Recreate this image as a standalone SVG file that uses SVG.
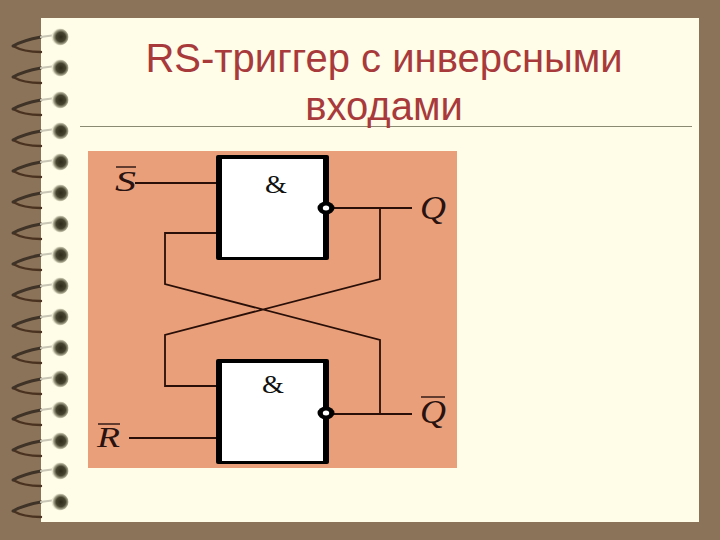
<svg xmlns="http://www.w3.org/2000/svg" width="720" height="540" viewBox="0 0 720 540">
<style>
.t{font-family:"Liberation Sans",Arial,sans-serif;font-size:40px;fill:#a83a3c;text-anchor:middle}
.m{font-family:"Liberation Serif","Times New Roman",serif;font-style:italic;font-size:30px;fill:#2a1210}
.q{font-size:34px}
.a{font-family:"Liberation Serif","Times New Roman",serif;font-size:26px;fill:#111}
.w{fill:none;stroke:#2a0f08;stroke-width:1.8}
.o{stroke:#2a1210;stroke-width:1.4}
.r1{fill:none;stroke:#3f3226;stroke-width:2.8;stroke-linecap:round}
.r2{fill:none;stroke:#c9c6b6;stroke-width:2.2;stroke-linecap:round}
.r3{fill:none;stroke:#4a3220;stroke-width:2.4;stroke-linecap:round}
</style>
<defs>
<radialGradient id="hole" cx="0.55" cy="0.5" r="0.5">
<stop offset="0" stop-color="#2e2b1b"/>
<stop offset="0.55" stop-color="#46432f"/>
<stop offset="0.85" stop-color="#a7a58c"/>
<stop offset="1" stop-color="#e8e6cf"/>
</radialGradient>
<g id="ring">
<path class="r3" d="M41 15C30 15 20 13 13 9"/>
<path class="r1" d="M13 9C20 5 30 2 41 0"/>
<path class="r2" d="M41 0C46-1 50-1 55-2"/>
<circle cx="60" cy="0" r="8.500" fill="url(#hole)"/>
</g>
</defs>
<rect width="720" height="540" fill="#8b735a"/>
<rect x="41" y="18" width="658" height="504" fill="#fffde8"/>
<path d="M80 126.500H692" stroke="#8a8a72" stroke-width="1"/>
<g id="rings">
<use href="#ring" y="37"/><use href="#ring" y="68"/><use href="#ring" y="100"/><use href="#ring" y="131"/>
<use href="#ring" y="162"/><use href="#ring" y="193"/><use href="#ring" y="224"/><use href="#ring" y="255"/>
<use href="#ring" y="286"/><use href="#ring" y="317"/><use href="#ring" y="348"/><use href="#ring" y="379"/>
<use href="#ring" y="410"/><use href="#ring" y="441"/><use href="#ring" y="471"/><use href="#ring" y="502"/>
</g>
<text class="t" x="384" y="72">RS-триггер с инверсными</text>
<text class="t" x="384" y="120">входами</text>
<rect x="88" y="151" width="369" height="317" fill="#e9a07a"/>
<g id="connectors">
<path class="w" d="M135 183H218M218 233H165V284L380 340V414M329 208H412M380 208V279L165 335V386H218M129 438H218M329 414H412"/>
</g>
<g id="gate-top">
<rect x="216" y="155" width="113" height="105" rx="2" fill="#000"/>
<rect x="222" y="159" width="101" height="98" fill="#fff"/>
<text class="a" x="265" y="193" textLength="22" lengthAdjust="spacingAndGlyphs">&amp;</text>
<ellipse cx="326" cy="208" rx="8.500" ry="6.500" fill="#000"/>
<ellipse cx="326" cy="208" rx="3.200" ry="2.500" fill="#fff"/>
</g>
<g id="gate-bottom">
<rect x="216" y="359" width="113" height="105" rx="2" fill="#000"/>
<rect x="222" y="363" width="101" height="98" fill="#fff"/>
<text class="a" x="262" y="393" textLength="22" lengthAdjust="spacingAndGlyphs">&amp;</text>
<ellipse cx="326" cy="413" rx="8.500" ry="6.500" fill="#000"/>
<ellipse cx="326" cy="413" rx="3.200" ry="2.500" fill="#fff"/>
</g>
<g id="label-s"><path class="o" d="M116 167H136"/><text class="m" x="115" y="191" textLength="21" lengthAdjust="spacingAndGlyphs">S</text></g>
<g id="label-q"><text class="m q" x="420" y="219" textLength="26" lengthAdjust="spacingAndGlyphs">Q</text></g>
<g id="label-r"><path class="o" d="M98 424H120"/><text class="m" x="97" y="447" textLength="23" lengthAdjust="spacingAndGlyphs">R</text></g>
<g id="label-nq"><path class="o" d="M421 397H445"/><text class="m q" x="420" y="423" textLength="26" lengthAdjust="spacingAndGlyphs">Q</text></g>
</svg>
